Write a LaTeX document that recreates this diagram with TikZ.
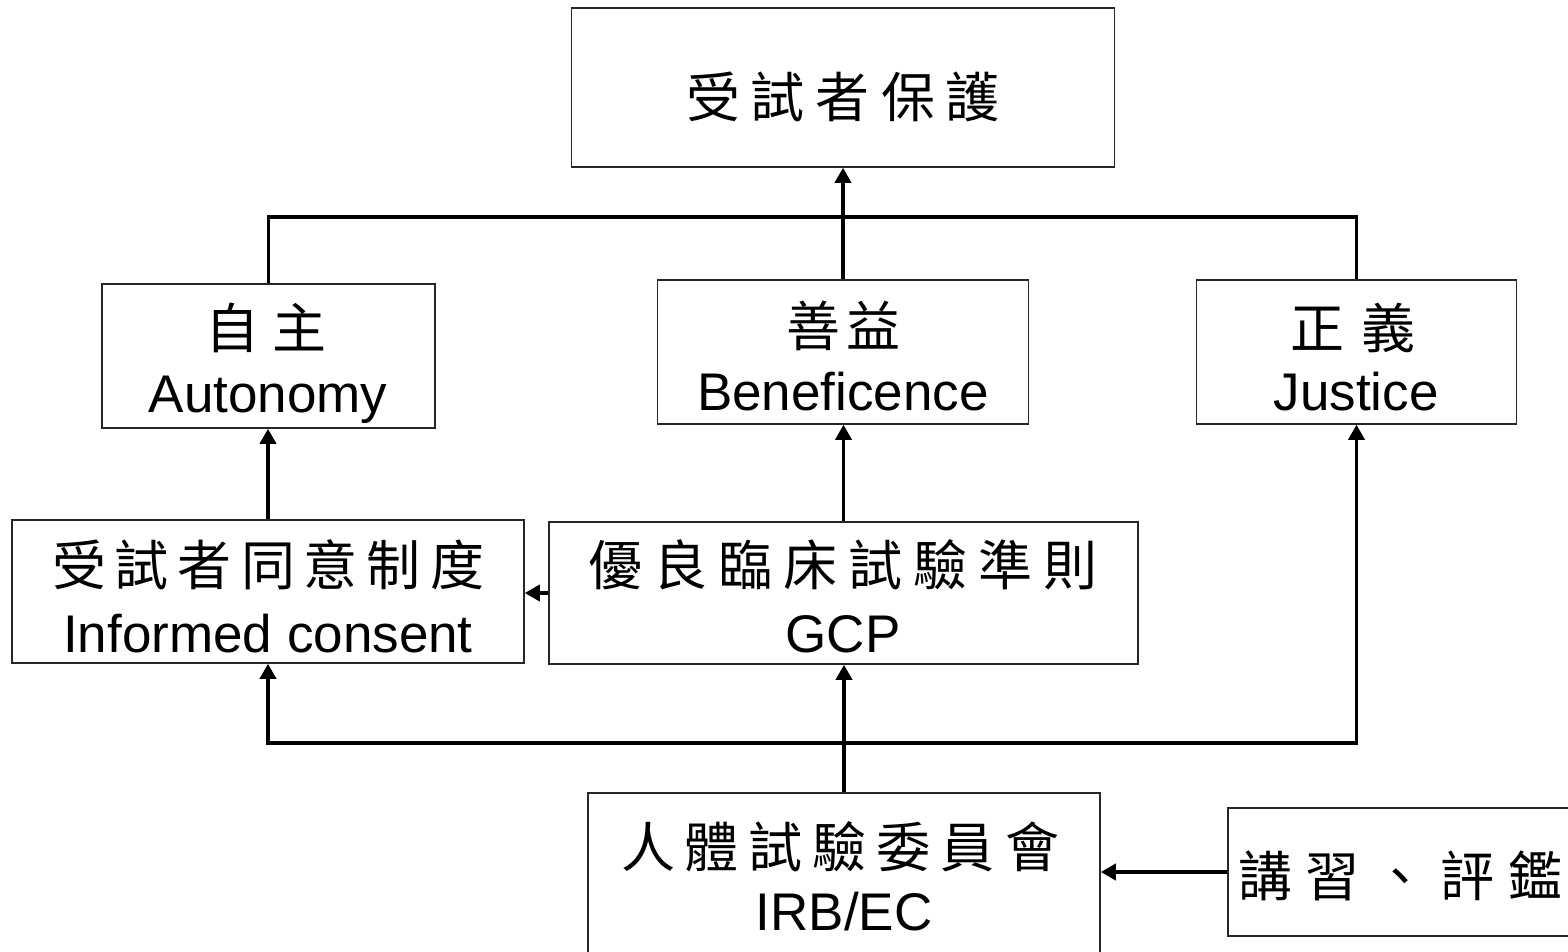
\documentclass[tikz,border=0pt]{standalone}
\usepackage{fontspec}
\setmainfont{Liberation Sans}
\newfontfamily\cjk{Noto Sans CJK TC}
\usetikzlibrary{arrows.meta}
\newdimen\cjkgapdim
\newcommand\cjksp[2]{\cjkgapdim=#1\relax\cjkspA#2\relax}
\def\cjkspA#1{\ifx\relax#1\else #1\expandafter\cjkspB\fi}
\def\cjkspB#1{\ifx\relax#1\else\kern\cjkgapdim #1\expandafter\cjkspB\fi}
\tikzset{
  box/.style={draw=black!85, line width=1.5pt, inner sep=0pt, fill=white},
  cjkt/.style={inner sep=0pt, anchor=base, font=\cjk\fontsize{54}{60}\selectfont},
  lat/.style={inner sep=0pt, anchor=base, font=\fontsize{53}{60}\selectfont},
  conn/.style={line width=3.5pt, black},
  arr/.style={conn, -{Triangle[length=15pt,width=16pt]}}
}
\begin{document}
\begin{tikzpicture}[x=1pt,y=-1pt]
\useasboundingbox (0,0) rectangle (1568,951);
\clip (0,0) rectangle (1568,951);
\fill[white] (0,0) rectangle (1568,951);
% boxes
\node[box, minimum width=543pt, minimum height=159pt] (top) at (843,87.5) {};
\node[box, minimum width=333pt, minimum height=144pt] (auto) at (268.5,356) {};
\node[box, minimum width=371pt, minimum height=144pt] (bene) at (843,352) {};
\node[box, minimum width=320pt, minimum height=144pt] (just) at (1356.5,352) {};
\node[box, minimum width=512pt, minimum height=143pt] (ic) at (268,591.5) {};
\node[box, minimum width=589pt, minimum height=142pt] (gcp) at (843.5,593) {};
\node[box, minimum width=512pt, minimum height=182pt] (irb) at (844,884) {};
\node[box, minimum width=372pt, minimum height=128pt] (train) at (1414,872) {};
% texts
\node[cjkt] (top-t) at (843,117) {\cjksp{11pt}{受試者保護}};
\node[cjkt] (auto-t) at (266,348) {\cjksp{13.5pt}{自主}};
\node[lat]  (auto-e) at (268,412) {Autonomy};
\node[cjkt] (bene-t) at (843,346) {\cjksp{6pt}{善益}};
\node[lat]  (bene-e) at (843,410) {Beneficence};
\node[cjkt] (just-t) at (1353,348) {\cjksp{17pt}{正義}};
\node[lat]  (just-e) at (1356,410) {Justice};
\node[cjkt] (ic-t) at (268,585) {\cjksp{9pt}{受試者同意制度}};
\node[lat]  (ic-e) at (268,652) {Informed consent};
\node[cjkt] (gcp-t) at (843,585) {\cjksp{11pt}{優良臨床試驗準則}};
\node[lat]  (gcp-e) at (843,652) {GCP};
\node[cjkt] (irb-t) at (840,867) {\cjksp{10pt}{人體試驗委員會}};
\node[lat]  (irb-e) at (844,930) {IRB/EC};
\node[cjkt] (train-t) at (1400,896) {\cjksp{13.5pt}{講習、評鑑}};
% connectors
\coordinate (busT) at (843,217);
\coordinate (busB) at (843,743);
\draw[conn] (auto.north) |- (busT) -| (just.north);
\draw[arr] (bene.north) -- (bene.north |- top.south);
\draw[arr] (ic.north) -- (ic.north |- auto.south);
\draw[arr] (gcp.north) -- (gcp.north |- bene.south);
\draw[arr] (gcp.west) -- (gcp.west -| ic.east);
\draw[arr] (irb.north) -- (irb.north |- gcp.south);
\draw[arr] (busB) -| (ic.south);
\draw[arr] (busB) -| (just.south);
\draw[arr] (train.west) -- (train.west -| irb.east);
\end{tikzpicture}
\end{document}
